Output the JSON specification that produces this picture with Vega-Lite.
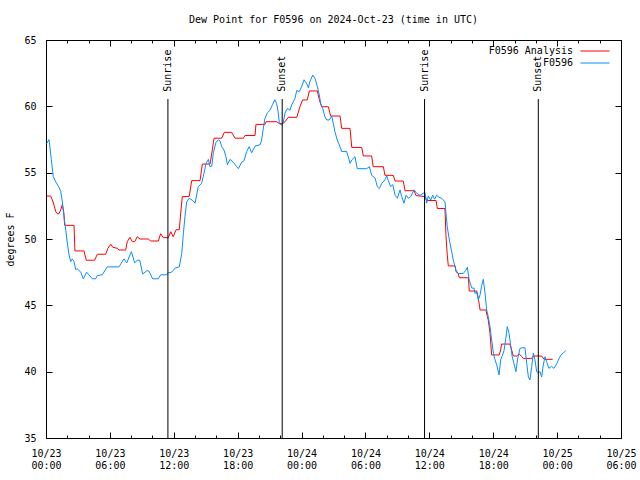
{
"$schema": "https://vega.github.io/schema/vega-lite/v6.json",
"width": 575, "height": 398,
"autosize": {"type": "none"},
"padding": {"left": 46, "top": 40, "right": 19, "bottom": 42},
"background": "white",
"title": {"text": "Dew Point for F0596 on 2024-Oct-23 (time in UTC)", "font": "DejaVu Sans Mono", "fontSize": 10, "fontWeight": "normal", "color": "black", "anchor": "middle", "offset": 10},
"config": {"view": {"stroke": "black", "strokeWidth": 1}, "font": "DejaVu Sans Mono"},
"datasets": {
"obs": [
{"time":"2024-10-23T00:04Z","dewpoint":53.24,"series":"F0596 Analysis"},
{"time":"2024-10-23T00:26Z","dewpoint":53.24,"series":"F0596 Analysis"},
{"time":"2024-10-23T00:36Z","dewpoint":52.94,"series":"F0596 Analysis"},
{"time":"2024-10-23T00:45Z","dewpoint":52.56,"series":"F0596 Analysis"},
{"time":"2024-10-23T00:55Z","dewpoint":52.06,"series":"F0596 Analysis"},
{"time":"2024-10-23T01:04Z","dewpoint":51.9,"series":"F0596 Analysis"},
{"time":"2024-10-23T01:13Z","dewpoint":51.9,"series":"F0596 Analysis"},
{"time":"2024-10-23T01:23Z","dewpoint":52.2,"series":"F0596 Analysis"},
{"time":"2024-10-23T01:32Z","dewpoint":52.6,"series":"F0596 Analysis"},
{"time":"2024-10-23T01:41Z","dewpoint":51.94,"series":"F0596 Analysis"},
{"time":"2024-10-23T01:45Z","dewpoint":51.03,"series":"F0596 Analysis"},
{"time":"2024-10-23T02:38Z","dewpoint":51.03,"series":"F0596 Analysis"},
{"time":"2024-10-23T02:43Z","dewpoint":49.1,"series":"F0596 Analysis"},
{"time":"2024-10-23T03:34Z","dewpoint":49.1,"series":"F0596 Analysis"},
{"time":"2024-10-23T03:47Z","dewpoint":48.4,"series":"F0596 Analysis"},
{"time":"2024-10-23T04:34Z","dewpoint":48.4,"series":"F0596 Analysis"},
{"time":"2024-10-23T04:49Z","dewpoint":48.85,"series":"F0596 Analysis"},
{"time":"2024-10-23T05:36Z","dewpoint":48.85,"series":"F0596 Analysis"},
{"time":"2024-10-23T05:49Z","dewpoint":49.3,"series":"F0596 Analysis"},
{"time":"2024-10-23T06:05Z","dewpoint":49.6,"series":"F0596 Analysis"},
{"time":"2024-10-23T06:17Z","dewpoint":49.37,"series":"F0596 Analysis"},
{"time":"2024-10-23T06:42Z","dewpoint":49.3,"series":"F0596 Analysis"},
{"time":"2024-10-23T06:51Z","dewpoint":49.17,"series":"F0596 Analysis"},
{"time":"2024-10-23T07:29Z","dewpoint":49.17,"series":"F0596 Analysis"},
{"time":"2024-10-23T07:38Z","dewpoint":49.8,"series":"F0596 Analysis"},
{"time":"2024-10-23T07:53Z","dewpoint":50.13,"series":"F0596 Analysis"},
{"time":"2024-10-23T08:06Z","dewpoint":49.8,"series":"F0596 Analysis"},
{"time":"2024-10-23T08:20Z","dewpoint":49.8,"series":"F0596 Analysis"},
{"time":"2024-10-23T08:34Z","dewpoint":50.17,"series":"F0596 Analysis"},
{"time":"2024-10-23T08:50Z","dewpoint":50.0,"series":"F0596 Analysis"},
{"time":"2024-10-23T09:36Z","dewpoint":50.0,"series":"F0596 Analysis"},
{"time":"2024-10-23T09:50Z","dewpoint":49.85,"series":"F0596 Analysis"},
{"time":"2024-10-23T10:33Z","dewpoint":49.85,"series":"F0596 Analysis"},
{"time":"2024-10-23T10:46Z","dewpoint":50.4,"series":"F0596 Analysis"},
{"time":"2024-10-23T11:01Z","dewpoint":50.1,"series":"F0596 Analysis"},
{"time":"2024-10-23T11:29Z","dewpoint":50.1,"series":"F0596 Analysis"},
{"time":"2024-10-23T11:43Z","dewpoint":50.55,"series":"F0596 Analysis"},
{"time":"2024-10-23T11:57Z","dewpoint":50.17,"series":"F0596 Analysis"},
{"time":"2024-10-23T12:13Z","dewpoint":50.7,"series":"F0596 Analysis"},
{"time":"2024-10-23T12:31Z","dewpoint":50.7,"series":"F0596 Analysis"},
{"time":"2024-10-23T12:39Z","dewpoint":51.94,"series":"F0596 Analysis"},
{"time":"2024-10-23T12:48Z","dewpoint":53.2,"series":"F0596 Analysis"},
{"time":"2024-10-23T13:27Z","dewpoint":53.2,"series":"F0596 Analysis"},
{"time":"2024-10-23T13:41Z","dewpoint":54.4,"series":"F0596 Analysis"},
{"time":"2024-10-23T14:28Z","dewpoint":54.4,"series":"F0596 Analysis"},
{"time":"2024-10-23T14:41Z","dewpoint":55.65,"series":"F0596 Analysis"},
{"time":"2024-10-23T15:24Z","dewpoint":55.65,"series":"F0596 Analysis"},
{"time":"2024-10-23T15:37Z","dewpoint":56.7,"series":"F0596 Analysis"},
{"time":"2024-10-23T15:47Z","dewpoint":57.6,"series":"F0596 Analysis"},
{"time":"2024-10-23T16:30Z","dewpoint":57.6,"series":"F0596 Analysis"},
{"time":"2024-10-23T16:45Z","dewpoint":58.04,"series":"F0596 Analysis"},
{"time":"2024-10-23T17:26Z","dewpoint":58.04,"series":"F0596 Analysis"},
{"time":"2024-10-23T17:45Z","dewpoint":57.6,"series":"F0596 Analysis"},
{"time":"2024-10-23T18:32Z","dewpoint":57.6,"series":"F0596 Analysis"},
{"time":"2024-10-23T18:41Z","dewpoint":57.8,"series":"F0596 Analysis"},
{"time":"2024-10-23T19:38Z","dewpoint":57.8,"series":"F0596 Analysis"},
{"time":"2024-10-23T19:43Z","dewpoint":58.64,"series":"F0596 Analysis"},
{"time":"2024-10-23T20:34Z","dewpoint":58.64,"series":"F0596 Analysis"},
{"time":"2024-10-23T20:40Z","dewpoint":58.84,"series":"F0596 Analysis"},
{"time":"2024-10-23T21:40Z","dewpoint":58.84,"series":"F0596 Analysis"},
{"time":"2024-10-23T21:55Z","dewpoint":58.7,"series":"F0596 Analysis"},
{"time":"2024-10-23T22:14Z","dewpoint":58.7,"series":"F0596 Analysis"},
{"time":"2024-10-23T22:27Z","dewpoint":58.84,"series":"F0596 Analysis"},
{"time":"2024-10-23T22:45Z","dewpoint":59.17,"series":"F0596 Analysis"},
{"time":"2024-10-23T23:33Z","dewpoint":59.17,"series":"F0596 Analysis"},
{"time":"2024-10-23T23:51Z","dewpoint":59.97,"series":"F0596 Analysis"},
{"time":"2024-10-24T00:06Z","dewpoint":60.48,"series":"F0596 Analysis"},
{"time":"2024-10-24T00:32Z","dewpoint":60.48,"series":"F0596 Analysis"},
{"time":"2024-10-24T00:44Z","dewpoint":61.16,"series":"F0596 Analysis"},
{"time":"2024-10-24T01:29Z","dewpoint":61.16,"series":"F0596 Analysis"},
{"time":"2024-10-24T01:40Z","dewpoint":60.5,"series":"F0596 Analysis"},
{"time":"2024-10-24T01:53Z","dewpoint":59.97,"series":"F0596 Analysis"},
{"time":"2024-10-24T02:31Z","dewpoint":59.97,"series":"F0596 Analysis"},
{"time":"2024-10-24T02:44Z","dewpoint":59.27,"series":"F0596 Analysis"},
{"time":"2024-10-24T03:37Z","dewpoint":59.27,"series":"F0596 Analysis"},
{"time":"2024-10-24T03:46Z","dewpoint":58.34,"series":"F0596 Analysis"},
{"time":"2024-10-24T04:33Z","dewpoint":58.34,"series":"F0596 Analysis"},
{"time":"2024-10-24T04:43Z","dewpoint":56.9,"series":"F0596 Analysis"},
{"time":"2024-10-24T05:39Z","dewpoint":56.9,"series":"F0596 Analysis"},
{"time":"2024-10-24T05:48Z","dewpoint":56.26,"series":"F0596 Analysis"},
{"time":"2024-10-24T06:35Z","dewpoint":56.26,"series":"F0596 Analysis"},
{"time":"2024-10-24T06:44Z","dewpoint":55.45,"series":"F0596 Analysis"},
{"time":"2024-10-24T07:41Z","dewpoint":55.45,"series":"F0596 Analysis"},
{"time":"2024-10-24T07:50Z","dewpoint":54.8,"series":"F0596 Analysis"},
{"time":"2024-10-24T08:37Z","dewpoint":54.8,"series":"F0596 Analysis"},
{"time":"2024-10-24T08:47Z","dewpoint":54.37,"series":"F0596 Analysis"},
{"time":"2024-10-24T09:33Z","dewpoint":54.37,"series":"F0596 Analysis"},
{"time":"2024-10-24T09:43Z","dewpoint":53.64,"series":"F0596 Analysis"},
{"time":"2024-10-24T10:34Z","dewpoint":53.64,"series":"F0596 Analysis"},
{"time":"2024-10-24T10:45Z","dewpoint":53.27,"series":"F0596 Analysis"},
{"time":"2024-10-24T11:36Z","dewpoint":53.2,"series":"F0596 Analysis"},
{"time":"2024-10-24T11:45Z","dewpoint":52.9,"series":"F0596 Analysis"},
{"time":"2024-10-24T12:38Z","dewpoint":52.9,"series":"F0596 Analysis"},
{"time":"2024-10-24T12:45Z","dewpoint":52.3,"series":"F0596 Analysis"},
{"time":"2024-10-24T13:28Z","dewpoint":52.3,"series":"F0596 Analysis"},
{"time":"2024-10-24T13:34Z","dewpoint":50.17,"series":"F0596 Analysis"},
{"time":"2024-10-24T13:41Z","dewpoint":48.8,"series":"F0596 Analysis"},
{"time":"2024-10-24T13:47Z","dewpoint":47.97,"series":"F0596 Analysis"},
{"time":"2024-10-24T14:25Z","dewpoint":47.97,"series":"F0596 Analysis"},
{"time":"2024-10-24T14:30Z","dewpoint":47.54,"series":"F0596 Analysis"},
{"time":"2024-10-24T14:43Z","dewpoint":47.4,"series":"F0596 Analysis"},
{"time":"2024-10-24T14:49Z","dewpoint":47.08,"series":"F0596 Analysis"},
{"time":"2024-10-24T15:40Z","dewpoint":47.08,"series":"F0596 Analysis"},
{"time":"2024-10-24T15:45Z","dewpoint":46.08,"series":"F0596 Analysis"},
{"time":"2024-10-24T16:27Z","dewpoint":46.08,"series":"F0596 Analysis"},
{"time":"2024-10-24T16:36Z","dewpoint":45.53,"series":"F0596 Analysis"},
{"time":"2024-10-24T16:46Z","dewpoint":44.65,"series":"F0596 Analysis"},
{"time":"2024-10-24T17:19Z","dewpoint":44.65,"series":"F0596 Analysis"},
{"time":"2024-10-24T17:27Z","dewpoint":44.14,"series":"F0596 Analysis"},
{"time":"2024-10-24T17:32Z","dewpoint":43.9,"series":"F0596 Analysis"},
{"time":"2024-10-24T17:42Z","dewpoint":42.9,"series":"F0596 Analysis"},
{"time":"2024-10-24T17:51Z","dewpoint":41.26,"series":"F0596 Analysis"},
{"time":"2024-10-24T18:34Z","dewpoint":41.26,"series":"F0596 Analysis"},
{"time":"2024-10-24T18:42Z","dewpoint":41.63,"series":"F0596 Analysis"},
{"time":"2024-10-24T18:47Z","dewpoint":42.08,"series":"F0596 Analysis"},
{"time":"2024-10-24T19:34Z","dewpoint":42.08,"series":"F0596 Analysis"},
{"time":"2024-10-24T19:44Z","dewpoint":41.63,"series":"F0596 Analysis"},
{"time":"2024-10-24T19:53Z","dewpoint":41.18,"series":"F0596 Analysis"},
{"time":"2024-10-24T20:12Z","dewpoint":41.18,"series":"F0596 Analysis"},
{"time":"2024-10-24T20:27Z","dewpoint":41.33,"series":"F0596 Analysis"},
{"time":"2024-10-24T20:41Z","dewpoint":41.13,"series":"F0596 Analysis"},
{"time":"2024-10-24T20:49Z","dewpoint":41.0,"series":"F0596 Analysis"},
{"time":"2024-10-24T21:37Z","dewpoint":41.0,"series":"F0596 Analysis"},
{"time":"2024-10-24T21:46Z","dewpoint":41.18,"series":"F0596 Analysis"},
{"time":"2024-10-24T22:33Z","dewpoint":41.18,"series":"F0596 Analysis"},
{"time":"2024-10-24T22:46Z","dewpoint":40.93,"series":"F0596 Analysis"},
{"time":"2024-10-24T23:35Z","dewpoint":40.93,"series":"F0596 Analysis"},
{"time":"2024-10-23T00:04Z","dewpoint":57.2,"series":"F0596"},
{"time":"2024-10-23T00:17Z","dewpoint":57.5,"series":"F0596"},
{"time":"2024-10-23T00:30Z","dewpoint":56.0,"series":"F0596"},
{"time":"2024-10-23T00:41Z","dewpoint":54.7,"series":"F0596"},
{"time":"2024-10-23T00:55Z","dewpoint":54.3,"series":"F0596"},
{"time":"2024-10-23T01:13Z","dewpoint":53.9,"series":"F0596"},
{"time":"2024-10-23T01:23Z","dewpoint":53.6,"series":"F0596"},
{"time":"2024-10-23T01:32Z","dewpoint":52.8,"series":"F0596"},
{"time":"2024-10-23T01:41Z","dewpoint":51.7,"series":"F0596"},
{"time":"2024-10-23T01:51Z","dewpoint":50.7,"series":"F0596"},
{"time":"2024-10-23T02:00Z","dewpoint":49.7,"series":"F0596"},
{"time":"2024-10-23T02:10Z","dewpoint":48.8,"series":"F0596"},
{"time":"2024-10-23T02:19Z","dewpoint":48.3,"series":"F0596"},
{"time":"2024-10-23T02:28Z","dewpoint":48.5,"series":"F0596"},
{"time":"2024-10-23T02:38Z","dewpoint":48.3,"series":"F0596"},
{"time":"2024-10-23T02:47Z","dewpoint":47.7,"series":"F0596"},
{"time":"2024-10-23T02:56Z","dewpoint":47.75,"series":"F0596"},
{"time":"2024-10-23T03:16Z","dewpoint":47.5,"series":"F0596"},
{"time":"2024-10-23T03:30Z","dewpoint":47.0,"series":"F0596"},
{"time":"2024-10-23T03:49Z","dewpoint":47.5,"series":"F0596"},
{"time":"2024-10-23T04:02Z","dewpoint":47.3,"series":"F0596"},
{"time":"2024-10-23T04:21Z","dewpoint":47.0,"series":"F0596"},
{"time":"2024-10-23T04:40Z","dewpoint":47.0,"series":"F0596"},
{"time":"2024-10-23T04:49Z","dewpoint":47.25,"series":"F0596"},
{"time":"2024-10-23T05:17Z","dewpoint":47.3,"series":"F0596"},
{"time":"2024-10-23T05:45Z","dewpoint":47.9,"series":"F0596"},
{"time":"2024-10-23T06:51Z","dewpoint":47.9,"series":"F0596"},
{"time":"2024-10-23T07:19Z","dewpoint":48.5,"series":"F0596"},
{"time":"2024-10-23T07:35Z","dewpoint":48.2,"series":"F0596"},
{"time":"2024-10-23T08:01Z","dewpoint":49.05,"series":"F0596"},
{"time":"2024-10-23T08:20Z","dewpoint":48.2,"series":"F0596"},
{"time":"2024-10-23T08:34Z","dewpoint":48.4,"series":"F0596"},
{"time":"2024-10-23T08:48Z","dewpoint":48.4,"series":"F0596"},
{"time":"2024-10-23T09:05Z","dewpoint":47.36,"series":"F0596"},
{"time":"2024-10-23T09:27Z","dewpoint":47.6,"series":"F0596"},
{"time":"2024-10-23T09:39Z","dewpoint":47.6,"series":"F0596"},
{"time":"2024-10-23T10:01Z","dewpoint":47.0,"series":"F0596"},
{"time":"2024-10-23T10:33Z","dewpoint":47.0,"series":"F0596"},
{"time":"2024-10-23T10:46Z","dewpoint":47.3,"series":"F0596"},
{"time":"2024-10-23T11:20Z","dewpoint":47.3,"series":"F0596"},
{"time":"2024-10-23T11:29Z","dewpoint":47.45,"series":"F0596"},
{"time":"2024-10-23T11:48Z","dewpoint":47.5,"series":"F0596"},
{"time":"2024-10-23T12:07Z","dewpoint":47.8,"series":"F0596"},
{"time":"2024-10-23T12:31Z","dewpoint":47.9,"series":"F0596"},
{"time":"2024-10-23T12:45Z","dewpoint":48.9,"series":"F0596"},
{"time":"2024-10-23T12:54Z","dewpoint":50.4,"series":"F0596"},
{"time":"2024-10-23T13:03Z","dewpoint":51.7,"series":"F0596"},
{"time":"2024-10-23T13:13Z","dewpoint":52.8,"series":"F0596"},
{"time":"2024-10-23T13:27Z","dewpoint":53.07,"series":"F0596"},
{"time":"2024-10-23T13:47Z","dewpoint":52.9,"series":"F0596"},
{"time":"2024-10-23T14:00Z","dewpoint":52.7,"series":"F0596"},
{"time":"2024-10-23T14:18Z","dewpoint":53.94,"series":"F0596"},
{"time":"2024-10-23T14:37Z","dewpoint":54.2,"series":"F0596"},
{"time":"2024-10-23T14:50Z","dewpoint":54.95,"series":"F0596"},
{"time":"2024-10-23T15:02Z","dewpoint":55.7,"series":"F0596"},
{"time":"2024-10-23T15:15Z","dewpoint":56.0,"series":"F0596"},
{"time":"2024-10-23T15:24Z","dewpoint":55.45,"series":"F0596"},
{"time":"2024-10-23T15:34Z","dewpoint":55.5,"series":"F0596"},
{"time":"2024-10-23T15:43Z","dewpoint":56.5,"series":"F0596"},
{"time":"2024-10-23T15:58Z","dewpoint":57.3,"series":"F0596"},
{"time":"2024-10-23T16:11Z","dewpoint":57.46,"series":"F0596"},
{"time":"2024-10-23T16:20Z","dewpoint":57.4,"series":"F0596"},
{"time":"2024-10-23T16:30Z","dewpoint":56.96,"series":"F0596"},
{"time":"2024-10-23T16:43Z","dewpoint":56.7,"series":"F0596"},
{"time":"2024-10-23T16:54Z","dewpoint":56.2,"series":"F0596"},
{"time":"2024-10-23T17:02Z","dewpoint":55.6,"series":"F0596"},
{"time":"2024-10-23T17:17Z","dewpoint":56.0,"series":"F0596"},
{"time":"2024-10-23T17:35Z","dewpoint":55.8,"series":"F0596"},
{"time":"2024-10-23T17:55Z","dewpoint":55.45,"series":"F0596"},
{"time":"2024-10-23T18:04Z","dewpoint":55.3,"series":"F0596"},
{"time":"2024-10-23T18:23Z","dewpoint":55.8,"series":"F0596"},
{"time":"2024-10-23T18:36Z","dewpoint":55.9,"series":"F0596"},
{"time":"2024-10-23T18:51Z","dewpoint":56.6,"series":"F0596"},
{"time":"2024-10-23T19:05Z","dewpoint":56.96,"series":"F0596"},
{"time":"2024-10-23T19:19Z","dewpoint":56.5,"series":"F0596"},
{"time":"2024-10-23T19:38Z","dewpoint":57.0,"series":"F0596"},
{"time":"2024-10-23T20:06Z","dewpoint":57.1,"series":"F0596"},
{"time":"2024-10-23T20:15Z","dewpoint":57.46,"series":"F0596"},
{"time":"2024-10-23T20:24Z","dewpoint":58.3,"series":"F0596"},
{"time":"2024-10-23T20:34Z","dewpoint":59.1,"series":"F0596"},
{"time":"2024-10-23T20:47Z","dewpoint":59.5,"series":"F0596"},
{"time":"2024-10-23T21:02Z","dewpoint":59.7,"series":"F0596"},
{"time":"2024-10-23T21:17Z","dewpoint":60.15,"series":"F0596"},
{"time":"2024-10-23T21:30Z","dewpoint":60.5,"series":"F0596"},
{"time":"2024-10-23T21:40Z","dewpoint":60.2,"series":"F0596"},
{"time":"2024-10-23T21:49Z","dewpoint":59.5,"series":"F0596"},
{"time":"2024-10-23T21:55Z","dewpoint":58.7,"series":"F0596"},
{"time":"2024-10-23T22:08Z","dewpoint":58.6,"series":"F0596"},
{"time":"2024-10-23T22:17Z","dewpoint":58.8,"series":"F0596"},
{"time":"2024-10-23T22:27Z","dewpoint":59.5,"series":"F0596"},
{"time":"2024-10-23T22:40Z","dewpoint":59.85,"series":"F0596"},
{"time":"2024-10-23T22:55Z","dewpoint":59.7,"series":"F0596"},
{"time":"2024-10-23T23:04Z","dewpoint":60.1,"series":"F0596"},
{"time":"2024-10-23T23:23Z","dewpoint":60.6,"series":"F0596"},
{"time":"2024-10-23T23:33Z","dewpoint":61.2,"series":"F0596"},
{"time":"2024-10-23T23:47Z","dewpoint":61.1,"series":"F0596"},
{"time":"2024-10-24T00:01Z","dewpoint":61.5,"series":"F0596"},
{"time":"2024-10-24T00:14Z","dewpoint":62.0,"series":"F0596"},
{"time":"2024-10-24T00:29Z","dewpoint":61.7,"series":"F0596"},
{"time":"2024-10-24T00:38Z","dewpoint":61.4,"series":"F0596"},
{"time":"2024-10-24T00:48Z","dewpoint":61.9,"series":"F0596"},
{"time":"2024-10-24T01:03Z","dewpoint":62.36,"series":"F0596"},
{"time":"2024-10-24T01:16Z","dewpoint":62.1,"series":"F0596"},
{"time":"2024-10-24T01:29Z","dewpoint":61.5,"series":"F0596"},
{"time":"2024-10-24T01:40Z","dewpoint":60.85,"series":"F0596"},
{"time":"2024-10-24T01:48Z","dewpoint":60.2,"series":"F0596"},
{"time":"2024-10-24T01:59Z","dewpoint":59.85,"series":"F0596"},
{"time":"2024-10-24T02:12Z","dewpoint":59.2,"series":"F0596"},
{"time":"2024-10-24T02:22Z","dewpoint":58.97,"series":"F0596"},
{"time":"2024-10-24T02:36Z","dewpoint":58.97,"series":"F0596"},
{"time":"2024-10-24T02:50Z","dewpoint":59.27,"series":"F0596"},
{"time":"2024-10-24T02:59Z","dewpoint":58.7,"series":"F0596"},
{"time":"2024-10-24T03:08Z","dewpoint":58.1,"series":"F0596"},
{"time":"2024-10-24T03:21Z","dewpoint":57.46,"series":"F0596"},
{"time":"2024-10-24T03:33Z","dewpoint":57.1,"series":"F0596"},
{"time":"2024-10-24T03:46Z","dewpoint":56.6,"series":"F0596"},
{"time":"2024-10-24T04:14Z","dewpoint":56.6,"series":"F0596"},
{"time":"2024-10-24T04:23Z","dewpoint":56.2,"series":"F0596"},
{"time":"2024-10-24T04:33Z","dewpoint":55.7,"series":"F0596"},
{"time":"2024-10-24T04:43Z","dewpoint":55.96,"series":"F0596"},
{"time":"2024-10-24T05:01Z","dewpoint":56.2,"series":"F0596"},
{"time":"2024-10-24T05:14Z","dewpoint":55.3,"series":"F0596"},
{"time":"2024-10-24T06:07Z","dewpoint":55.3,"series":"F0596"},
{"time":"2024-10-24T06:22Z","dewpoint":55.45,"series":"F0596"},
{"time":"2024-10-24T06:35Z","dewpoint":54.8,"series":"F0596"},
{"time":"2024-10-24T06:54Z","dewpoint":54.6,"series":"F0596"},
{"time":"2024-10-24T07:07Z","dewpoint":53.94,"series":"F0596"},
{"time":"2024-10-24T07:18Z","dewpoint":53.8,"series":"F0596"},
{"time":"2024-10-24T07:32Z","dewpoint":54.2,"series":"F0596"},
{"time":"2024-10-24T07:50Z","dewpoint":54.45,"series":"F0596"},
{"time":"2024-10-24T08:00Z","dewpoint":54.75,"series":"F0596"},
{"time":"2024-10-24T08:09Z","dewpoint":54.4,"series":"F0596"},
{"time":"2024-10-24T08:22Z","dewpoint":53.94,"series":"F0596"},
{"time":"2024-10-24T08:34Z","dewpoint":54.1,"series":"F0596"},
{"time":"2024-10-24T08:47Z","dewpoint":53.3,"series":"F0596"},
{"time":"2024-10-24T09:00Z","dewpoint":53.07,"series":"F0596"},
{"time":"2024-10-24T09:15Z","dewpoint":53.7,"series":"F0596"},
{"time":"2024-10-24T09:24Z","dewpoint":53.2,"series":"F0596"},
{"time":"2024-10-24T09:37Z","dewpoint":52.7,"series":"F0596"},
{"time":"2024-10-24T09:49Z","dewpoint":53.3,"series":"F0596"},
{"time":"2024-10-24T10:02Z","dewpoint":53.07,"series":"F0596"},
{"time":"2024-10-24T10:15Z","dewpoint":53.2,"series":"F0596"},
{"time":"2024-10-24T10:34Z","dewpoint":53.7,"series":"F0596"},
{"time":"2024-10-24T10:49Z","dewpoint":53.45,"series":"F0596"},
{"time":"2024-10-24T11:07Z","dewpoint":53.3,"series":"F0596"},
{"time":"2024-10-24T11:26Z","dewpoint":53.45,"series":"F0596"},
{"time":"2024-10-24T11:36Z","dewpoint":53.5,"series":"F0596"},
{"time":"2024-10-24T11:45Z","dewpoint":52.7,"series":"F0596"},
{"time":"2024-10-24T11:54Z","dewpoint":53.24,"series":"F0596"},
{"time":"2024-10-24T12:08Z","dewpoint":52.94,"series":"F0596"},
{"time":"2024-10-24T12:19Z","dewpoint":53.3,"series":"F0596"},
{"time":"2024-10-24T12:30Z","dewpoint":53.0,"series":"F0596"},
{"time":"2024-10-24T12:41Z","dewpoint":53.3,"series":"F0596"},
{"time":"2024-10-24T12:54Z","dewpoint":53.15,"series":"F0596"},
{"time":"2024-10-24T13:10Z","dewpoint":53.07,"series":"F0596"},
{"time":"2024-10-24T13:19Z","dewpoint":52.94,"series":"F0596"},
{"time":"2024-10-24T13:28Z","dewpoint":52.8,"series":"F0596"},
{"time":"2024-10-24T13:34Z","dewpoint":51.9,"series":"F0596"},
{"time":"2024-10-24T13:41Z","dewpoint":50.93,"series":"F0596"},
{"time":"2024-10-24T13:53Z","dewpoint":49.93,"series":"F0596"},
{"time":"2024-10-24T14:06Z","dewpoint":49.04,"series":"F0596"},
{"time":"2024-10-24T14:15Z","dewpoint":48.4,"series":"F0596"},
{"time":"2024-10-24T14:30Z","dewpoint":47.66,"series":"F0596"},
{"time":"2024-10-24T14:43Z","dewpoint":47.4,"series":"F0596"},
{"time":"2024-10-24T15:11Z","dewpoint":47.4,"series":"F0596"},
{"time":"2024-10-24T15:27Z","dewpoint":47.66,"series":"F0596"},
{"time":"2024-10-24T15:34Z","dewpoint":47.87,"series":"F0596"},
{"time":"2024-10-24T15:45Z","dewpoint":46.9,"series":"F0596"},
{"time":"2024-10-24T15:59Z","dewpoint":46.3,"series":"F0596"},
{"time":"2024-10-24T16:12Z","dewpoint":46.3,"series":"F0596"},
{"time":"2024-10-24T16:17Z","dewpoint":45.9,"series":"F0596"},
{"time":"2024-10-24T16:27Z","dewpoint":46.0,"series":"F0596"},
{"time":"2024-10-24T16:36Z","dewpoint":45.4,"series":"F0596"},
{"time":"2024-10-24T16:46Z","dewpoint":45.8,"series":"F0596"},
{"time":"2024-10-24T16:55Z","dewpoint":46.5,"series":"F0596"},
{"time":"2024-10-24T17:04Z","dewpoint":46.96,"series":"F0596"},
{"time":"2024-10-24T17:14Z","dewpoint":45.9,"series":"F0596"},
{"time":"2024-10-24T17:23Z","dewpoint":44.65,"series":"F0596"},
{"time":"2024-10-24T17:32Z","dewpoint":44.14,"series":"F0596"},
{"time":"2024-10-24T17:42Z","dewpoint":43.4,"series":"F0596"},
{"time":"2024-10-24T17:51Z","dewpoint":42.4,"series":"F0596"},
{"time":"2024-10-24T18:01Z","dewpoint":41.4,"series":"F0596"},
{"time":"2024-10-24T18:10Z","dewpoint":40.9,"series":"F0596"},
{"time":"2024-10-24T18:20Z","dewpoint":40.5,"series":"F0596"},
{"time":"2024-10-24T18:33Z","dewpoint":39.75,"series":"F0596"},
{"time":"2024-10-24T18:42Z","dewpoint":40.9,"series":"F0596"},
{"time":"2024-10-24T18:51Z","dewpoint":41.2,"series":"F0596"},
{"time":"2024-10-24T19:01Z","dewpoint":41.6,"series":"F0596"},
{"time":"2024-10-24T19:10Z","dewpoint":42.4,"series":"F0596"},
{"time":"2024-10-24T19:19Z","dewpoint":43.4,"series":"F0596"},
{"time":"2024-10-24T19:29Z","dewpoint":42.9,"series":"F0596"},
{"time":"2024-10-24T19:38Z","dewpoint":42.0,"series":"F0596"},
{"time":"2024-10-24T19:47Z","dewpoint":41.13,"series":"F0596"},
{"time":"2024-10-24T19:57Z","dewpoint":40.6,"series":"F0596"},
{"time":"2024-10-24T20:08Z","dewpoint":40.0,"series":"F0596"},
{"time":"2024-10-24T20:18Z","dewpoint":41.0,"series":"F0596"},
{"time":"2024-10-24T20:31Z","dewpoint":41.76,"series":"F0596"},
{"time":"2024-10-24T20:41Z","dewpoint":41.8,"series":"F0596"},
{"time":"2024-10-24T20:59Z","dewpoint":41.8,"series":"F0596"},
{"time":"2024-10-24T21:09Z","dewpoint":40.6,"series":"F0596"},
{"time":"2024-10-24T21:18Z","dewpoint":39.6,"series":"F0596"},
{"time":"2024-10-24T21:27Z","dewpoint":39.37,"series":"F0596"},
{"time":"2024-10-24T21:37Z","dewpoint":40.4,"series":"F0596"},
{"time":"2024-10-24T21:46Z","dewpoint":41.4,"series":"F0596"},
{"time":"2024-10-24T21:55Z","dewpoint":40.9,"series":"F0596"},
{"time":"2024-10-24T22:05Z","dewpoint":40.0,"series":"F0596"},
{"time":"2024-10-24T22:14Z","dewpoint":39.93,"series":"F0596"},
{"time":"2024-10-24T22:24Z","dewpoint":40.0,"series":"F0596"},
{"time":"2024-10-24T22:33Z","dewpoint":39.6,"series":"F0596"},
{"time":"2024-10-24T22:42Z","dewpoint":40.5,"series":"F0596"},
{"time":"2024-10-24T22:52Z","dewpoint":41.13,"series":"F0596"},
{"time":"2024-10-24T23:01Z","dewpoint":40.75,"series":"F0596"},
{"time":"2024-10-24T23:14Z","dewpoint":40.25,"series":"F0596"},
{"time":"2024-10-24T23:29Z","dewpoint":40.4,"series":"F0596"},
{"time":"2024-10-24T23:42Z","dewpoint":40.25,"series":"F0596"},
{"time":"2024-10-24T23:58Z","dewpoint":40.6,"series":"F0596"},
{"time":"2024-10-25T00:11Z","dewpoint":41.0,"series":"F0596"},
{"time":"2024-10-25T00:26Z","dewpoint":41.33,"series":"F0596"},
{"time":"2024-10-25T00:35Z","dewpoint":41.4,"series":"F0596"},
{"time":"2024-10-25T00:49Z","dewpoint":41.6,"series":"F0596"}
],
"sun": [
{"time":"2024-10-23T11:27Z","event":"Sunrise"},
{"time":"2024-10-23T22:11Z","event":"Sunset"},
{"time":"2024-10-24T11:33Z","event":"Sunrise"},
{"time":"2024-10-24T22:14Z","event":"Sunset"}
]
},
"layer": [
{
"data": {"name": "obs"},
"mark": {"type": "line", "strokeWidth": 1, "interpolate": "linear"},
"encoding": {
"x": {"field": "time", "type": "temporal",
"scale": {"type": "utc", "domain": [1729641600000, 1729836000000], "nice": false},
"axis": {"orient": "bottom", "title": null, "grid": false, "domain": false,
"values": [1729641600000, 1729663200000, 1729684800000, 1729706400000, 1729728000000, 1729749600000, 1729771200000, 1729792800000, 1729814400000, 1729836000000],
"labelExpr": "utcFormat(datum.value, '%m/%d')",
"tickSize": -6,
"tickColor": "black", "labelColor": "black", "labelFont": "DejaVu Sans Mono", "labelFontSize": 10,
"labelPadding": 16, "labelBaseline": "top", "labelOverlap": false, "labelFlush": false, "labelBound": false}},
"y": {"field": "dewpoint", "type": "quantitative",
"scale": {"domain": [35, 65], "nice": false, "zero": false},
"axis": {"orient": "left", "values": [35, 40, 45, 50, 55, 60, 65], "grid": false, "domain": false,
"tickSize": -6, "tickColor": "black", "labelColor": "black", "labelFont": "DejaVu Sans Mono", "labelFontSize": 10, "labelPadding": 16,
"title": "degrees F", "titleFont": "DejaVu Sans Mono", "titleFontSize": 10, "titleFontWeight": "normal", "titleColor": "black", "titlePadding": 8}},
"color": {"field": "series", "type": "nominal",
"scale": {"domain": ["F0596 Analysis", "F0596"], "range": ["#ff0000", "#0a8cff"]},
"legend": {"orient": "none", "legendX": 544, "legendY": 6, "title": null, "padding": 0,
"symbolType": "M-5,0H5", "symbolSize": 34, "symbolStrokeWidth": 1,
"labelAlign": "right", "labelOffset": -27, "labelFont": "DejaVu Sans Mono", "labelFontSize": 10, "labelColor": "black", "rowPadding": 2}}
}
},
{
"data": {"name": "sun"},
"mark": {"type": "rule", "color": "black", "strokeWidth": 1},
"encoding": {
"x": {"field": "time", "type": "temporal",
"axis": {"orient": "top", "title": null, "grid": false, "domain": false, "labels": false,
"values": [1729641600000, 1729648800000, 1729656000000, 1729663200000, 1729670400000, 1729677600000, 1729684800000, 1729692000000, 1729699200000, 1729706400000, 1729713600000, 1729720800000, 1729728000000, 1729735200000, 1729742400000, 1729749600000, 1729756800000, 1729764000000, 1729771200000, 1729778400000, 1729785600000, 1729792800000, 1729800000000, 1729807200000, 1729814400000, 1729821600000, 1729828800000, 1729836000000],
"tickSize": -3, "tickColor": "black"}},
"y": {"datum": 60.55, "type": "quantitative",
"axis": {"orient": "right", "title": null, "grid": false, "domain": false, "labels": false,
"values": [35, 40, 45, 50, 55, 60, 65], "tickSize": -6, "tickColor": "black"}},
"y2": {"datum": 35}
}
},
{
"data": {"name": "sun"},
"mark": {"type": "text", "angle": 270, "align": "left", "baseline": "middle", "font": "DejaVu Sans Mono", "fontSize": 10, "color": "black"},
"encoding": {
"x": {"field": "time", "type": "temporal",
"axis": {"orient": "bottom", "title": null, "grid": false, "domain": false, "ticks": false,
"values": [1729641600000, 1729663200000, 1729684800000, 1729706400000, 1729728000000, 1729749600000, 1729771200000, 1729792800000, 1729814400000, 1729836000000],
"labelExpr": "utcFormat(datum.value, '%H:%M')",
"labelColor": "black", "labelFont": "DejaVu Sans Mono", "labelFontSize": 10,
"labelPadding": 22, "labelBaseline": "top", "labelOverlap": false, "labelFlush": false, "labelBound": false}},
"y": {"datum": 61.1, "type": "quantitative", "axis": null},
"text": {"field": "event"}
}
},
{
"data": {"name": "sun"},
"mark": {"type": "rule", "strokeOpacity": 0},
"encoding": {
"x": {"field": "time", "type": "temporal",
"axis": {"orient": "top", "title": null, "grid": false, "domain": false, "labels": false,
"values": [1729641600000, 1729663200000, 1729684800000, 1729706400000, 1729728000000, 1729749600000, 1729771200000, 1729792800000, 1729814400000, 1729836000000],
"tickSize": -6, "tickColor": "black"}},
"y": {"datum": 60.55, "type": "quantitative", "axis": null},
"y2": {"datum": 35}
}
},
{
"data": {"name": "sun"},
"mark": {"type": "rule", "strokeOpacity": 0},
"encoding": {
"x": {"field": "time", "type": "temporal",
"axis": {"orient": "bottom", "title": null, "grid": false, "domain": false, "labels": false,
"values": [1729641600000, 1729648800000, 1729656000000, 1729663200000, 1729670400000, 1729677600000, 1729684800000, 1729692000000, 1729699200000, 1729706400000, 1729713600000, 1729720800000, 1729728000000, 1729735200000, 1729742400000, 1729749600000, 1729756800000, 1729764000000, 1729771200000, 1729778400000, 1729785600000, 1729792800000, 1729800000000, 1729807200000, 1729814400000, 1729821600000, 1729828800000, 1729836000000],
"tickSize": -3, "tickColor": "black"}},
"y": {"datum": 60.55, "type": "quantitative", "axis": null},
"y2": {"datum": 35}
}
}
],
"resolve": {"axis": {"x": "independent", "y": "independent"}}
}
